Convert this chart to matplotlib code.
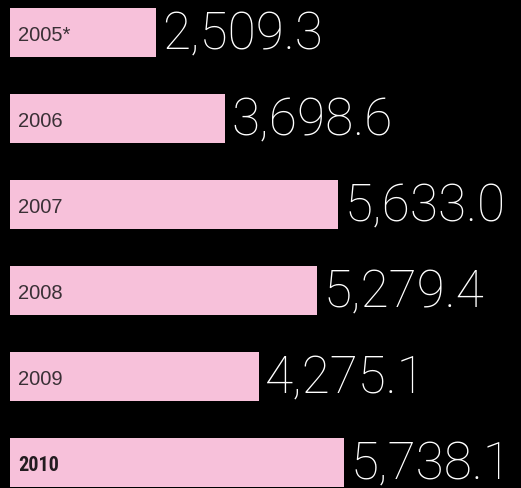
import matplotlib.pyplot as plt

# data
years = ["2005*", "2006", "2007", "2008", "2009", "2010"]
values = [2509.3, 3698.6, 5633.0, 5279.4, 4275.1, 5738.1]

fig = plt.figure(figsize=(5.21, 4.89), dpi=100)
fig.patch.set_facecolor("black")
ax = fig.add_axes([0, 0, 1, 1])
ax.set_facecolor("black")

pos = list(range(len(years)))
ax.barh(pos, values, height=0.56, left=0, color="#f7c1da")

for i, (yr, v) in enumerate(zip(years, values)):
    last = i == len(years) - 1
    if last:
        ax.text(140, i + 0.02, yr, va="center", ha="left", fontsize=14.5,
                color="#231c20", family=["Roboto Condensed", "Liberation Sans Narrow", "DejaVu Sans"],
                fontweight="heavy", fontstretch="condensed")
    else:
        ax.text(140, i + 0.02, yr, va="center", ha="left", fontsize=14.5,
                color="#3a3036", family="Liberation Sans")
    ax.text(v + 110, i + 0.02, f"{v:,.1f}", va="center", ha="left", fontsize=37,
            color="white", family="Roboto", fontweight=100)

ax.set_xlim(-172, 8780)
ax.set_ylim(5.297, -0.3895)
ax.axis("off")

fig.savefig("out.png", dpi=100, facecolor="black")
